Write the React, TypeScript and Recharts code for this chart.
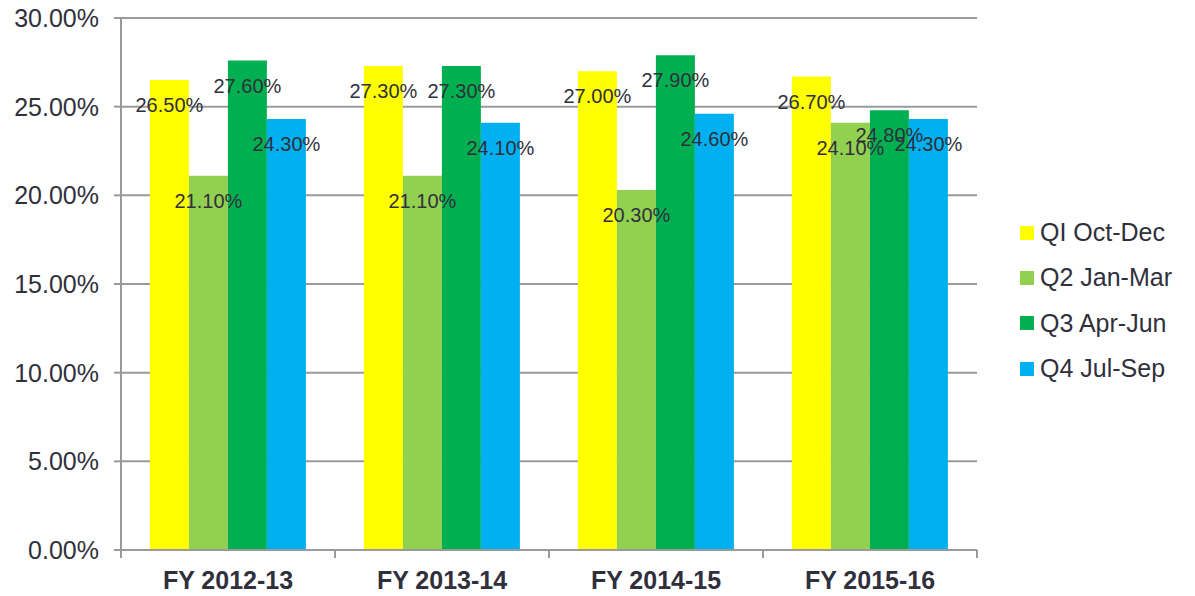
import { BarChart, Bar, XAxis, YAxis, CartesianGrid, LabelList } from "recharts";

const categories = ["FY 2012-13", "FY 2013-14", "FY 2014-15", "FY 2015-16"];
const q1 = [26.5, 27.3, 27.0, 26.7];
const q2 = [21.1, 21.1, 20.3, 24.1];
const q3 = [27.6, 27.3, 27.9, 24.8];
const q4 = [24.3, 24.1, 24.6, 24.3];
const yTicks = [0, 5, 10, 15, 20, 25, 30];

const series = [
  { key: "q1", name: "QI Oct-Dec", color: "#FFFF00" },
  { key: "q2", name: "Q2 Jan-Mar", color: "#92D050" },
  { key: "q3", name: "Q3 Apr-Jun", color: "#00B050" },
  { key: "q4", name: "Q4 Jul-Sep", color: "#00B0F0" },
];

const data = categories.map((name, i) => ({
  name,
  q1: q1[i],
  q2: q2[i],
  q3: q3[i],
  q4: q4[i],
}));

const FONT = '"Liberation Sans", Arial, sans-serif';
const TEXT = "#30303c";
const GRID = "#9a9a9a";

const pct = (v: number) => `${Number(v).toFixed(2)}%`;

// category labels with tick marks on the category boundaries
const XTick = (props: any) => {
  const { x, y, payload, index, width, visibleTicksCount } = props;
  const half = width / (visibleTicksCount || categories.length) / 2;
  return (
    <g>
      <line x1={x - half} x2={x - half} y1={y} y2={y + 8} stroke={GRID} strokeWidth={2} />
      {index === categories.length - 1 && (
        <line x1={x + half} x2={x + half} y1={y} y2={y + 8} stroke={GRID} strokeWidth={2} />
      )}
      <text x={x} y={y + 39} textAnchor="middle" fill={TEXT} fontSize={25} fontWeight="bold" fontFamily={FONT}>
        {payload.value}
      </text>
    </g>
  );
};

// legend sits to the right of the plot, outside the chart layout
const ChartLegend = () => (
  <div style={{ position: "absolute", left: 1020, top: 210, fontFamily: FONT }}>
    {series.map((s) => (
      <div key={s.key} style={{ display: "flex", alignItems: "center", height: 45.3 }}>
        <span style={{ width: 14, height: 14, background: s.color, marginRight: 6, display: "inline-block" }} />
        <span style={{ fontSize: 25, color: TEXT, whiteSpace: "nowrap" }}>{s.name}</span>
      </div>
    ))}
  </div>
);

export default function App() {
  return (
    <div style={{ position: "absolute", left: 0, top: 0, width: 1195, height: 596 }}>
      <BarChart
        width={1195}
        height={596}
        data={data}
        margin={{ top: 18, right: 218, bottom: 10, left: 0 }}
        barCategoryGap="13.5%"
        barGap={0}
      >
        <CartesianGrid vertical={false} stroke={GRID} strokeWidth={2} />
        <XAxis
          dataKey="name"
          height={36}
          stroke={GRID}
          strokeWidth={2}
          tickLine={false}
          tickSize={0}
          tickMargin={0}
          tick={<XTick />}
          interval={0}
        />
        <YAxis
          width={121}
          domain={[0, 30]}
          ticks={yTicks}
          tickFormatter={pct}
          stroke={GRID}
          strokeWidth={2}
          tickSize={7}
          tickMargin={15}
          tick={{ fill: TEXT, fontSize: 25, fontFamily: FONT }}
          interval={0}
        />
        {series.map((s) => (
          <Bar key={s.key} dataKey={s.key} name={s.name} fill={s.color} isAnimationActive={false}>
            <LabelList
              dataKey={s.key}
              position="insideTop"
              offset={18}
              formatter={pct}
              fill={TEXT}
              fontSize={20}
              fontFamily={FONT}
            />
          </Bar>
        ))}
      </BarChart>
      <ChartLegend />
    </div>
  );
}
